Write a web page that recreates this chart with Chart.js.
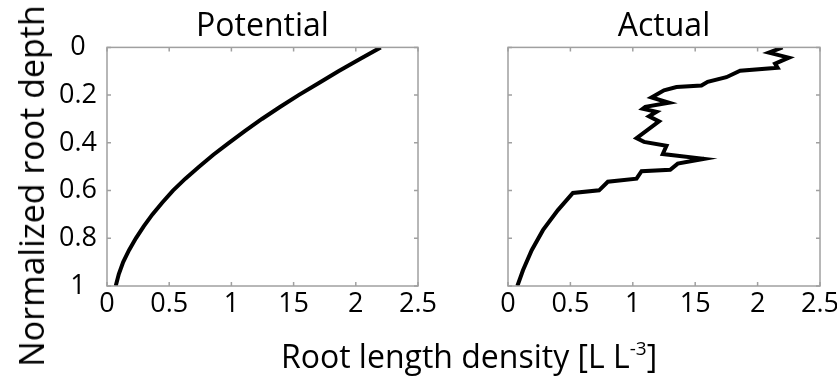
<!DOCTYPE html>
<html>
<head>
<meta charset="utf-8">
<script src="https://cdn.jsdelivr.net/npm/chart.js@4.4.1/dist/chart.umd.min.js"></script>
<style>
  html, body { margin: 0; padding: 0; background: #fff; }
  body { width: 837px; height: 381px; position: relative; overflow: hidden; font-family: 'Open Sans', sans-serif; }
  .panel { position: absolute; top: 0; height: 381px; }
  #boxA { left: 0; width: 440px; }
  #boxB { left: 440px; width: 397px; }
  .axis-title { position: absolute; white-space: nowrap; color: #000; line-height: 1; }
  #ytitle { left: 31px; top: 186px; font-size: 34px; transform: translate(-50%, -50%) rotate(-90deg); }
  #xtitle { left: 469px; top: 356px; font-size: 32px; transform: translate(-50%, -50%); }
  #xtitle sup { font-size: 19px; vertical-align: 13px; line-height: 0; }
</style>
</head>
<body>
<div class="panel" id="boxA"><canvas id="potentialChart"></canvas></div>
<div class="panel" id="boxB"><canvas id="actualChart"></canvas></div>
<div class="axis-title" id="ytitle">Normalized root depth</div>
<div class="axis-title" id="xtitle">Root length density [L L<sup>-3</sup>]</div>
<script>
// tick labels (the middle one is printed as "15" on the figure)
const xTickLabels = ['0', '0.5', '1', '15', '2', '2.5'];
const yTickLabels = ['0', '0.2', '0.4', '0.6', '0.8', '1'];

// potential root length density profile
const potentialDepth = [0, 0.05, 0.10, 0.15, 0.20, 0.25, 0.30, 0.35, 0.40, 0.45, 0.50,
  0.55, 0.60, 0.65, 0.70, 0.75, 0.80, 0.85, 0.90, 0.95, 1.00];
const potentialDensity = [2.20, 2.03, 1.86, 1.70, 1.54, 1.39, 1.245, 1.11, 0.98, 0.855, 0.74,
  0.63, 0.53, 0.445, 0.365, 0.295, 0.232, 0.177, 0.13, 0.095, 0.07];

// actual (measured) profile, in drawing order
const actualDepth = [0.000, 0.022, 0.043, 0.068, 0.085, 0.098, 0.125, 0.144, 0.160, 0.166,
  0.180, 0.210, 0.232, 0.249, 0.257, 0.270, 0.289, 0.310, 0.380, 0.396, 0.412, 0.447,
  0.467, 0.487, 0.513, 0.519, 0.550, 0.563, 0.599, 0.610, 0.682, 0.766, 0.850, 0.934, 1.000];
const actualDensity = [2.20, 2.09, 2.25, 2.14, 2.16, 1.86, 1.75, 1.60, 1.55, 1.35,
  1.25, 1.15, 1.29, 1.10, 1.08, 1.19, 1.13, 1.21, 1.03, 1.09, 1.27, 1.24,
  1.57, 1.36, 1.30, 1.07, 1.03, 0.80, 0.73, 0.52, 0.40, 0.28, 0.19, 0.12, 0.075];

const toPoints = (xs, ys) => xs.map((x, i) => ({ x: x, y: ys[i] }));

// box round the plot area with small inward ticks on every side
const boxTicks = {
  id: 'boxTicks',
  afterDraw(chart) {
    const { ctx, chartArea: a, scales } = chart;
    const len = 4;
    ctx.save();
    ctx.strokeStyle = '#a0a0a0';
    ctx.lineWidth = 1.5;
    ctx.strokeRect(a.left, a.top, a.right - a.left, a.bottom - a.top);
    ctx.beginPath();
    scales.x.ticks.forEach(t => {
      const px = scales.x.getPixelForValue(t.value);
      ctx.moveTo(px, a.bottom); ctx.lineTo(px, a.bottom - len);
      ctx.moveTo(px, a.top); ctx.lineTo(px, a.top + len);
    });
    scales.y.ticks.forEach(t => {
      const py = scales.y.getPixelForValue(t.value);
      ctx.moveTo(a.left, py); ctx.lineTo(a.left + len, py);
      ctx.moveTo(a.right, py); ctx.lineTo(a.right - len, py);
    });
    ctx.stroke();
    ctx.restore();
  }
};

// yWidth = room for the depth axis, padRight = space kept on the right
const createPanel = (elementId, title, points, yWidth, padRight, showY) => {
  return new Chart(document.getElementById(elementId).getContext('2d'), {
    type: 'scatter',
    data: {
      datasets: [{
        data: points,
        showLine: true,
        borderColor: '#000',
        borderWidth: 4,
        pointRadius: 0,
        tension: 0
      }]
    },
    options: {
      responsive: true,
      maintainAspectRatio: false,
      animation: false,
      layout: { padding: { left: 0, right: padRight, top: 0, bottom: 0 } },
      plugins: {
        legend: { display: false },
        tooltip: { enabled: false },
        title: {
          display: true,
          fullSize: false,
          text: title,
          color: '#000',
          font: { family: "'Open Sans', sans-serif", size: 32, weight: 'normal' },
          padding: { top: 8, bottom: 1 }
        }
      },
      scales: {
        x: {
          type: 'linear',
          min: 0,
          max: 2.5,
          ticks: {
            stepSize: 0.5,
            color: '#000',
            padding: 2,
            maxRotation: 0,
            font: { family: "'Open Sans', sans-serif", size: 27 },
            callback: v => xTickLabels[Math.round(v * 2)]
          },
          grid: { display: false, drawTicks: false },
          border: { display: false },
          afterFit: s => { s.height = 95; s.paddingLeft = 0; s.paddingRight = 0; }
        },
        y: {
          type: 'linear',
          reverse: true,
          min: 0,
          max: 1,
          ticks: {
            display: showY,
            stepSize: 0.2,
            color: '#000',
            padding: 10,
            crossAlign: 'center',
            font: { family: "'Open Sans', sans-serif", size: 27 },
            callback: v => yTickLabels[Math.round(v * 5)]
          },
          grid: { display: false, drawTicks: false },
          border: { display: false },
          afterFit: s => { s.width = yWidth; s.paddingTop = 0; s.paddingBottom = 0; }
        }
      }
    },
    plugins: [boxTicks]
  });
};

createPanel('potentialChart', 'Potential', toPoints(potentialDensity, potentialDepth), 107, 22, true);
createPanel('actualChart', 'Actual', toPoints(actualDensity, actualDepth), 68, 17, false);
</script>
</body>
</html>
